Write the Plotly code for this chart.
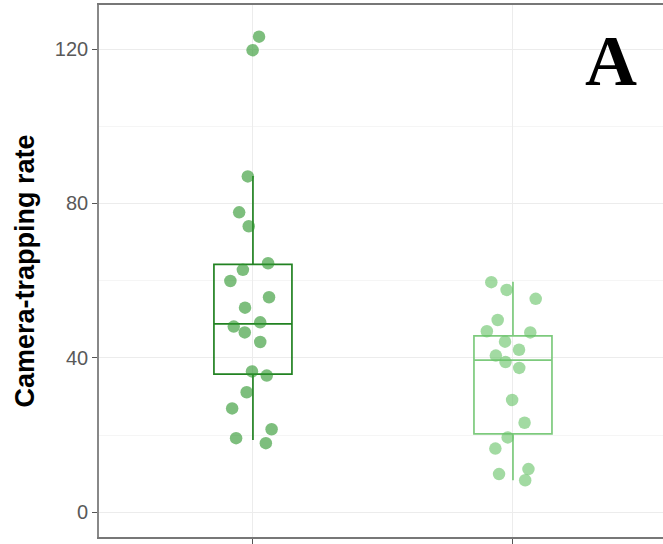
import plotly.graph_objects as go

# ---- data ----
groups = [1, 2]
group1_values = [123.2, 119.7, 87.0, 77.7, 74.1, 64.5, 62.8, 59.9, 55.7, 53.0,
                 49.2, 48.1, 46.6, 44.1, 36.5, 35.4, 31.1, 26.9, 21.5, 19.2, 17.9]
group2_values = [59.6, 57.6, 55.3, 49.8, 46.9, 46.6, 44.2, 42.1, 40.6, 38.9,
                 37.4, 29.1, 23.2, 19.4, 16.5, 11.2, 9.9, 8.3]
# box statistics (q1, median, q3, lower whisker, upper whisker)
box_q1 = [35.8, 20.3]
box_median = [48.8, 39.4]
box_q3 = [64.2, 45.7]
box_lower = [18.7, 8.3]
box_upper = [87.1, 59.7]
y_ticks = [0, 40, 80, 120]
y_title = "Camera-trapping rate"
panel_label = "A"

box_line_colors = ["rgb(34,130,34)", "rgb(125,202,125)"]
point_colors = ["rgba(45,150,45,0.62)", "rgba(105,195,105,0.62)"]

fig = go.Figure()

for i, g in enumerate(groups):
    fig.add_trace(go.Box(
        x=[g], q1=[box_q1[i]], median=[box_median[i]], q3=[box_q3[i]],
        lowerfence=[box_lower[i]], upperfence=[box_upper[i]],
        width=0.3, boxpoints=False, whiskerwidth=0,
        line=dict(color=box_line_colors[i], width=1.7),
        fillcolor="rgba(255,255,255,0)", showlegend=False, hoverinfo="skip",
    ))

for i, (g, vals) in enumerate(zip(groups, [group1_values, group2_values])):
    fig.add_trace(go.Box(
        x=[g] * len(vals), y=vals, width=0.3,
        boxpoints="all", jitter=0.7, pointpos=0, whiskerwidth=0,
        line=dict(color="rgba(0,0,0,0)", width=0),
        fillcolor="rgba(0,0,0,0)",
        marker=dict(color=point_colors[i], size=12.5),
        showlegend=False,
    ))

fig.add_annotation(
    text=panel_label, xref="paper", yref="paper",
    x=(611 - 99) / (663 - 99), y=(537 - 61) / (537 - 5),
    xanchor="center", yanchor="middle", showarrow=False,
    font=dict(family="Liberation Serif", size=72, color="black", weight="bold"),
)

fig.update_layout(
    width=663, height=544,
    margin=dict(l=99, r=0, t=5, b=7),
    paper_bgcolor="white", plot_bgcolor="white",
    boxmode="overlay",
    xaxis=dict(
        range=[0.408, 2.577], tickvals=groups, showticklabels=False,
        ticks="outside", ticklen=7, tickcolor="#555", tickwidth=1.2,
        showgrid=True, gridcolor="#ececec", gridwidth=1,
        showline=True, linecolor="#777", linewidth=1.6, mirror=True,
        zeroline=False,
    ),
    yaxis=dict(
        range=[-6.4, 131.4], tickvals=y_ticks,
        ticks="outside", ticklen=5, tickcolor="#555", tickwidth=1.2,
        tickfont=dict(family="Liberation Sans", size=20, color="#595959"),
        showgrid=True, gridcolor="#ececec", gridwidth=1,
        minor=dict(dtick=20, showgrid=True, gridcolor="#f5f5f5", gridwidth=1),
        showline=True, linecolor="#888", linewidth=1.6,
        zeroline=False,
        title=dict(text=y_title, standoff=12,
                   font=dict(family="Liberation Sans", size=27, color="black", weight="bold")),
    ),
    font=dict(family="Liberation Sans"),
)

fig.write_html("out.html", config={"displayModeBar": False},
               post_script="document.body.style.margin='0';")
